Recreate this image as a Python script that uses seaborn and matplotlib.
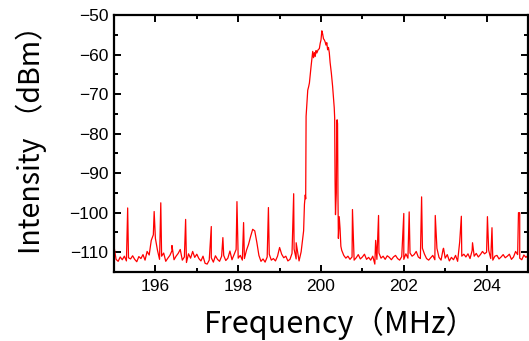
import numpy as np
import pandas as pd
import seaborn as sns
import matplotlib.pyplot as plt
from matplotlib.ticker import MultipleLocator

# noise floor left of the carrier, 195.00 .. 199.45 MHz every 0.05 MHz
floor_left = [
    -108.5, -111.8, -112.3, -111.2, -111.9, -111.0, -112.2, -111.4, -111.7, -110.9,
    -111.8, -112.4, -111.1, -111.6, -110.6, -112.0, -109.8, -110.7, -107.0, -105.6,
    -106.5, -109.5, -111.8, -111.0, -110.2, -112.3, -111.5, -110.8, -109.6, -111.9,
    -111.0, -110.3, -109.3, -112.0, -111.2, -112.6, -110.4, -111.5, -109.8, -111.3,
    -110.5, -111.6, -112.2, -111.0, -112.8, -113.0, -112.0, -111.4, -112.5, -110.9,
    -111.8, -112.3, -111.0, -110.8, -112.1, -111.5, -109.7, -111.9, -110.6, -109.3,
    -111.5, -110.8, -112.0, -111.6, -109.5, -108.0, -106.0, -104.2, -104.6, -107.5,
    -110.8, -112.3, -111.7, -112.5, -111.2, -110.5, -112.0, -111.6, -112.2, -111.0,
    -108.8, -110.5, -111.4, -111.0, -112.2, -111.8, -110.3, -109.2, -111.7, -111.0,
]
# noise floor right of the carrier, 200.50 .. 205.00 MHz every 0.05 MHz
floor_right = [
    -109.5, -110.8, -111.5, -111.0, -111.8, -111.2, -112.0, -111.4, -110.6, -111.7,
    -111.2, -110.5, -111.8, -111.3, -112.0, -111.0, -113.0, -111.8, -110.2, -111.5,
    -111.0, -111.8, -110.9, -111.3, -111.9, -111.2, -110.8, -111.6, -112.0, -111.1,
    -111.8, -110.4, -111.5, -110.2, -111.0, -110.6, -109.8, -111.2, -111.6, -109.0,
    -110.5, -111.6, -112.0, -111.4, -110.8, -111.9, -109.0, -111.3, -112.0, -109.2,
    -111.5, -110.6, -112.2, -111.3, -111.9, -110.8, -112.3, -107.4, -111.0, -110.5,
    -111.2, -110.4, -111.6, -109.6, -111.0, -110.3, -111.2, -110.6, -109.8, -110.4,
    -110.0, -109.5, -111.6, -112.0, -111.0, -110.8, -111.7, -111.2, -110.6, -111.4,
    -111.0, -110.5, -111.8, -111.2, -109.8, -110.6, -111.5, -111.9, -110.7, -111.3,
    -110.8,
]

# the carrier
peak_freq = [199.47, 199.52, 199.56, 199.58, 199.60, 199.62, 199.63, 199.64, 199.66, 199.68,
             199.70, 199.72, 199.74, 199.76, 199.78, 199.80, 199.82, 199.84, 199.86, 199.88,
             199.90, 199.93, 199.96, 199.98, 200.00, 200.02, 200.04, 200.06, 200.08, 200.10,
             200.12, 200.14, 200.16, 200.18, 200.20, 200.22, 200.25, 200.28, 200.30, 200.32,
             200.33, 200.34, 200.35, 200.37, 200.38, 200.39, 200.40, 200.41, 200.42, 200.44,
             200.46, 200.48]
peak_level = [-112.2, -109.9, -106.5, -104.6, -97.9, -95.5, -96.5, -75.6, -72.5, -69.0,
              -68.2, -67.2, -65.0, -63.0, -61.0, -59.2, -60.8, -59.5, -60.5, -59.0,
              -59.6, -58.8, -58.5, -57.2, -56.3, -54.0, -54.8, -56.0, -56.3, -56.8,
              -57.6, -57.0, -58.8, -58.2, -59.5, -62.0, -64.7, -68.0, -70.6, -73.5,
              -76.0, -92.0, -100.5, -95.0, -77.0, -76.5, -77.5, -96.0, -106.5, -101.0,
              -104.0, -108.5]

# spurious spikes
spike_freq = [195.33, 195.97, 196.13, 196.40, 196.73, 197.35, 197.63, 197.97, 198.13, 198.73,
              199.34, 199.40, 200.76, 201.32, 201.39, 202.00, 202.13, 202.43, 202.76, 202.96,
              203.39, 203.66, 204.02, 204.13, 204.77, 204.80]
spike_level = [-98.8, -99.7, -97.5, -108.3, -101.7, -103.5, -106.3, -97.2, -102.5, -98.7,
               -95.2, -107.6, -99.2, -107.0, -100.7, -100.2, -99.8, -96.0, -100.7, -109.0,
               -100.9, -107.6, -101.0, -103.8, -100.0, -100.0]

left_freq = 195.0 + 0.05 * np.arange(len(floor_left))
right_freq = 200.5 + 0.05 * np.arange(len(floor_right))

df = pd.concat([
    pd.DataFrame({'freq': left_freq, 'level': floor_left}),
    pd.DataFrame({'freq': right_freq, 'level': floor_right}),
    pd.DataFrame({'freq': peak_freq, 'level': peak_level}),
    pd.DataFrame({'freq': spike_freq, 'level': spike_level}),
]).sort_values('freq').reset_index(drop=True)

sns.set_style('ticks')
plt.rcParams['font.family'] = ['Liberation Sans', 'DejaVu Sans']

fig = plt.figure(figsize=(5.29, 3.41), dpi=100)
ax = fig.add_axes([114 / 529, 1 - 272 / 341, 414 / 529, 257 / 341])

sns.lineplot(data=df, x='freq', y='level', ax=ax, color='red', linewidth=0.9,
             estimator=None, sort=False)

ax.set_xlim(195, 205)
ax.set_ylim(-115, -50)
ax.xaxis.set_major_locator(MultipleLocator(2))
ax.xaxis.set_minor_locator(MultipleLocator(1))
ax.yaxis.set_major_locator(MultipleLocator(10))
ax.yaxis.set_minor_locator(MultipleLocator(5))
ax.tick_params(which='both', direction='in', top=True, right=True, width=1.4,
               color='black', labelsize=12.5, labelcolor='black')
ax.tick_params(which='major', length=5)
ax.tick_params(which='minor', length=3)
ax.tick_params(axis='x', pad=5)
ax.tick_params(axis='y', pad=4)
for s in ax.spines.values():
    s.set_linewidth(1.6)
    s.set_color('black')

lab_font = ['Noto Sans CJK JP', 'DejaVu Sans']
ax.set_xlabel('Frequency（MHz）', fontsize=22, family=lab_font, labelpad=9.5,
              color='black')
ax.set_ylabel('Intensity （dBm）', fontsize=20.5, family=lab_font, labelpad=16,
              color='black')
ax.xaxis.label.set_x(0.546)
ax.yaxis.label.set_y(0.543)

fig.savefig('out.png', dpi=100)
